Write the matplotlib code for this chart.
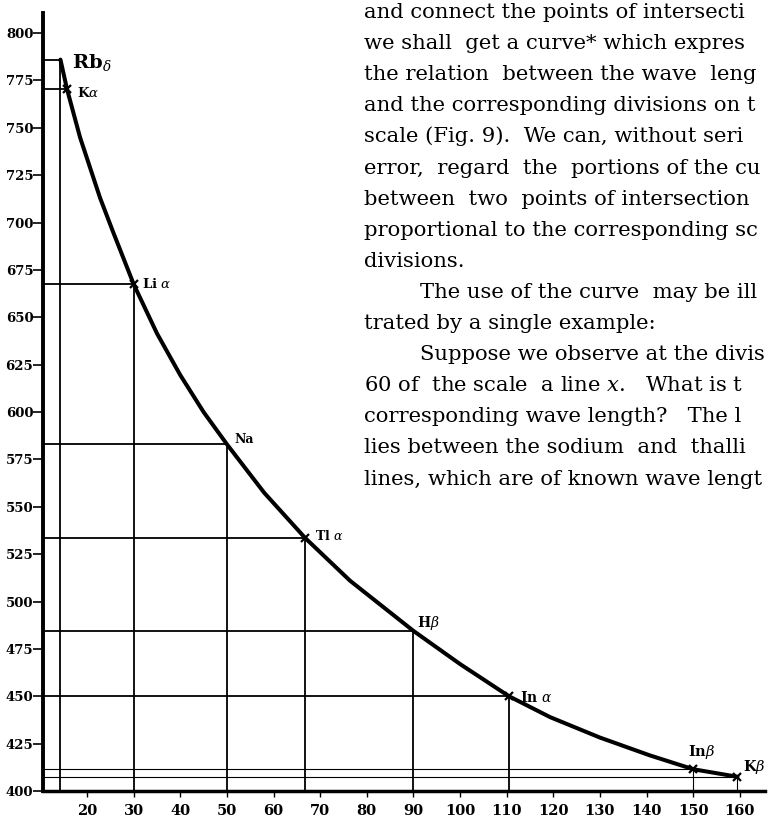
import matplotlib.pyplot as plt

# calibration curve: scale division -> wave length
curve_div = [14.3, 15.7, 18.5, 22.8, 25.6, 30, 35, 40, 45, 50, 58, 66.8,
             76.4, 90, 100, 110.5, 119.3, 130, 140.7, 150, 159.5]
curve_wl = [786, 770.5, 745, 713, 695, 667.5, 641.5, 619.5, 600, 583, 557.4, 533.5,
            511, 484.5, 467, 450, 439, 428.2, 418.8, 411.5, 407.5]

# known spectral lines
line_names = [r'Rb$_\delta$', r'K$\alpha$', r'Li $\alpha$', 'Na', r'Tl $\alpha$',
              r'H$\beta$', r'In $\alpha$', r'In$\beta$', r'K$\beta$']
line_div = [14.3, 15.7, 30, 50, 66.8, 90, 110.5, 150, 159.5]
line_wl = [786, 770.5, 667.5, 583, 533.5, 484.5, 450, 411.5, 407.5]
crossed = [False, True, True, False, True, False, True, True, True]

y_ticks = list(range(400, 801, 25))
x_ticks = list(range(20, 161, 10))

# the page text, as far as it shows beside the figure
page_lines = [
    "and connect the points of intersecti",
    "we shall  get a curve* which expres",
    "the relation  between the wave  leng",
    "and the corresponding divisions on t",
    "scale (Fig. 9).  We can, without seri",
    "error,  regard  the  portions of the cu",
    "between  two  points of intersection",
    "proportional to the corresponding sc",
    "divisions.",
    "The use of the curve  may be ill",
    "trated by a single example:",
    "Suppose we observe at the divis",
    "60 of  the scale  a line $x$.   What is t",
    "corresponding wave length?   The l",
    "lies between the sodium  and  thalli",
    "lines, which are of known wave lengt",
]
indented = [9, 11]

plt.rcParams['mathtext.fontset'] = 'dejavuserif'

fig = plt.figure(figsize=(7.72, 8.22), dpi=100)
ax = fig.add_axes([43 / 772, 31 / 822, 722 / 772, 778 / 822])
ax.set_xlim(10.56, 165.4)
ax.set_ylim(400, 810.6)

# guide lines from the axes to each known line
x0 = ax.get_xlim()[0]
for i in range(len(line_div)):
    lw = 0.8 if i >= 7 else 1.3
    ax.plot([x0, line_div[i]], [line_wl[i], line_wl[i]], color='black', lw=lw)
    if i != 1:
        ax.plot([line_div[i], line_div[i]], [400, line_wl[i]], color='black', lw=lw)

ax.plot(curve_div, curve_wl, color='black', lw=2.9, solid_capstyle='round',
        solid_joinstyle='round')
for i in range(len(line_div)):
    if crossed[i]:
        ax.plot(line_div[i], line_wl[i], marker='x', color='black', ms=6, mew=1.6)

# label positions (data coords)
label_xy = [(16.8, 784.7), (17.8, 768.5), (31.8, 667.5), (51.7, 585.5),
            (68.9, 534.5), (90.8, 488.5), (112.8, 449.6), (148.9, 420.6),
            (160.6, 412.7)]
label_size = [14, 9.5, 9.5, 9, 9, 10, 10, 10.5, 10.5]
for name, (lx, ly), fs in zip(line_names, label_xy, label_size):
    ax.text(lx, ly, name, fontsize=fs, family='DejaVu Serif', fontweight='bold',
            ha='left', va='center')

for s in ['top', 'right']:
    ax.spines[s].set_visible(False)
ax.spines['left'].set_linewidth(2.8)
ax.spines['bottom'].set_linewidth(2.5)

ax.set_yticks(y_ticks)
ax.set_yticklabels([str(v) for v in y_ticks], family='DejaVu Serif',
                   fontweight='bold', fontsize=9.5)
ax.tick_params(axis='y', direction='out', length=7, width=1.2, pad=0)
ax.set_xticks(x_ticks)
ax.set_xticklabels([str(v) for v in x_ticks], family='DejaVu Serif',
                   fontweight='bold', fontsize=10.5)
ax.tick_params(axis='x', direction='out', length=4, width=1, pad=5)

# running text of the page beside the figure
for i, txt in enumerate(page_lines):
    x = 420 if i in indented else 364
    y = 18 + i * 31.1
    fig.text(x / 772, 1 - y / 822, txt, fontsize=15.2, family='DejaVu Serif',
             ha='left', va='baseline')

fig.savefig('out.png', dpi=100)
